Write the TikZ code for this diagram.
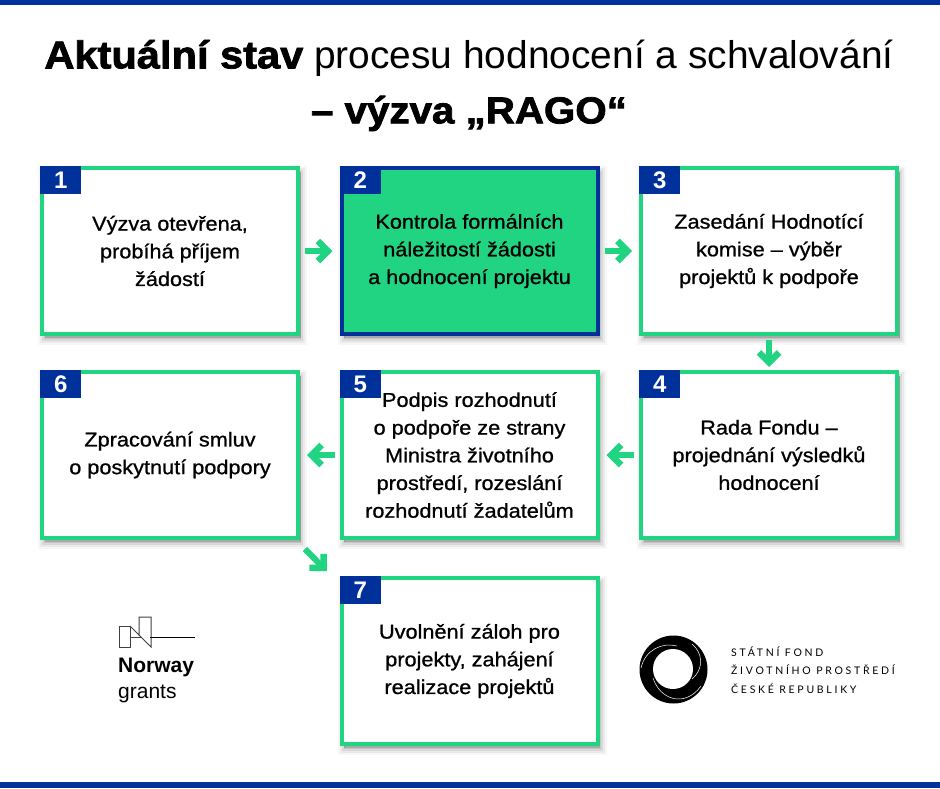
\documentclass[tikz,border=0pt]{standalone}
\usepackage{fontspec}
\setmainfont{Liberation Sans}
\newfontfamily\headbold{Liberation Sans Bold}[FakeStretch=1.075,FakeBold=2]
\newfontfamily\headlight{Liberation Sans}[FakeStretch=1.005]
\newfontfamily\bodyfont{Liberation Sans}[FakeStretch=1.085,FakeBold=0.9]
\newfontfamily\fondfont{Lato}[LetterSpace=26]
\usetikzlibrary{arrows.meta, positioning, calc, shadows}
\definecolor{fondblue}{HTML}{00309A}
\definecolor{fondgreen}{HTML}{20D481}

\begin{document}
\begin{tikzpicture}[
    x=1pt, y=-1pt,
    softshadow/.style={
        general shadow={shadow xshift=2.5pt, shadow yshift=-4pt, fill=black, draw=black, opacity=.03, line width=13pt},
        general shadow={shadow xshift=2.5pt, shadow yshift=-4pt, fill=black, draw=black, opacity=.05, line width=9pt},
        general shadow={shadow xshift=2.5pt, shadow yshift=-4pt, fill=black, draw=black, opacity=.07, line width=5pt},
        general shadow={shadow xshift=2.5pt, shadow yshift=-4pt, fill=black, draw=black, opacity=.09, line width=1pt}},
    stepbox/.style={rectangle, softshadow, draw=fondgreen, fill=white, line width=4pt,
                    minimum width=256pt, minimum height=166pt, inner sep=0pt, align=center,
                    font=\bodyfont\fontsize{20}{27.7}\selectfont},
    activebox/.style={stepbox, draw=fondblue, fill=fondgreen},
    numtag/.style={rectangle, fill=fondblue, text=white, anchor=north west, minimum width=41pt,
                   minimum height=28pt, inner sep=0pt, font=\bfseries\fontsize{24}{24}\selectfont},
    arr/.style={-{Straight Barb[length=10pt, width=20pt, line width=6.5pt]}, draw=fondgreen, line width=6pt},
    logoline/.style={draw=black!75, line width=1pt}
]
    \useasboundingbox (0,0) rectangle (940,788);
    \fill[fondblue] (0,0) rectangle (940,5);
    \fill[fondblue] (0,782) rectangle (940,788);

    \node[align=center, inner sep=0pt, font=\fontsize{38.7}{55}\selectfont] (title) at (469,85.5) {%
        {\headbold Aktuální stav} {\headlight procesu hodnocení a schvalování}\\
        {\headbold\fontsize{37.5}{55}\selectfont – výzva „RAGO“}};

    \node[stepbox]   (b1) at (170,251) {Výzva otevřena,\\probíhá příjem\\žádostí};
    \node[activebox] (b2) at (469.5,251) {Kontrola formálních\\náležitostí žádosti\\a hodnocení projektu};
    \node[stepbox]   (b3) at (769,251) {Zasedání Hodnotící\\komise – výběr\\projektů k podpoře};
    \node[stepbox]   (b4) at (769,455) {Rada Fondu –\\projednání výsledků\\hodnocení};
    \node[stepbox]   (b5) at (469.5,455) {Podpis rozhodnutí\\o podpoře ze strany\\Ministra životního\\prostředí, rozeslání\\rozhodnutí žadatelům};
    \node[stepbox]   (b6) at (170,455) {Zpracování smluv\\o poskytnutí podpory};
    \node[stepbox]   (b7) at (469.5,661) {Uvolnění záloh pro\\projekty, zahájení\\realizace projektů};

    \node[numtag] (n1) at (b1.north west) {1};
    \node[numtag] (n2) at (b2.north west) {2};
    \node[numtag] (n3) at (b3.north west) {3};
    \node[numtag] (n4) at (b4.north west) {4};
    \node[numtag] (n5) at (b5.north west) {5};
    \node[numtag] (n6) at (b6.north west) {6};
    \node[numtag] (n7) at (b7.north west) {7};

    \draw[arr, shorten <=5pt, shorten >=7pt] (b1) -- (b2);
    \draw[arr, shorten <=5pt, shorten >=7pt] (b2) -- (b3);
    \draw[arr, shorten <=4pt, shorten >=3pt] (b3) -- (b4);
    \draw[arr, shorten <=5pt, shorten >=7pt] (b4) -- (b5);
    \draw[arr, shorten <=5pt, shorten >=7pt] (b5) -- (b6);
    \draw[arr, shorten <=12.7pt, shorten >=18pt] ([xshift=-4pt]b6.south east) -- ([yshift=-8pt]b7.north west);

    % Norway grants
    \draw[logoline] (119,626) rectangle (130,647);
    \draw[logoline] (139,636) -- (139,617) -- (151,617) -- (151,647) -- (130,626);
    \draw[logoline] (130,637) -- (141,637);
    \draw[draw=black, line width=1pt] (150,637) -- (195,637);
    \node[anchor=west, inner sep=0pt, font=\bfseries\fontsize{21}{21}\selectfont] (norway) at (118,667) {Norway};
    \node[anchor=west, inner sep=0pt, font=\fontsize{21}{21}\selectfont] (grants) at (118,694) {grants};

    % fond logo
    \fill[black] (673.5,669.5) circle (34);
    \fill[white] (673,669) circle (20);
    \draw[white, line width=.5pt] (641,668) .. controls (645,650) and (662,642) .. (677,646);
    \draw[white, line width=.5pt] (692,644) .. controls (702,652) and (705,668) .. (692,679);
    \draw[white, line width=.5pt] (653,678) .. controls (660,700) and (685,708) .. (701,686);
    \node[anchor=west, inner sep=0pt, font=\fondfont\fontsize{10.5}{18.5}\selectfont, align=left] (fond) at (731,670)
        {STÁTNÍ FOND\\ŽIVOTNÍHO PROSTŘEDÍ\\ČESKÉ REPUBLIKY};
\end{tikzpicture}
\end{document}
